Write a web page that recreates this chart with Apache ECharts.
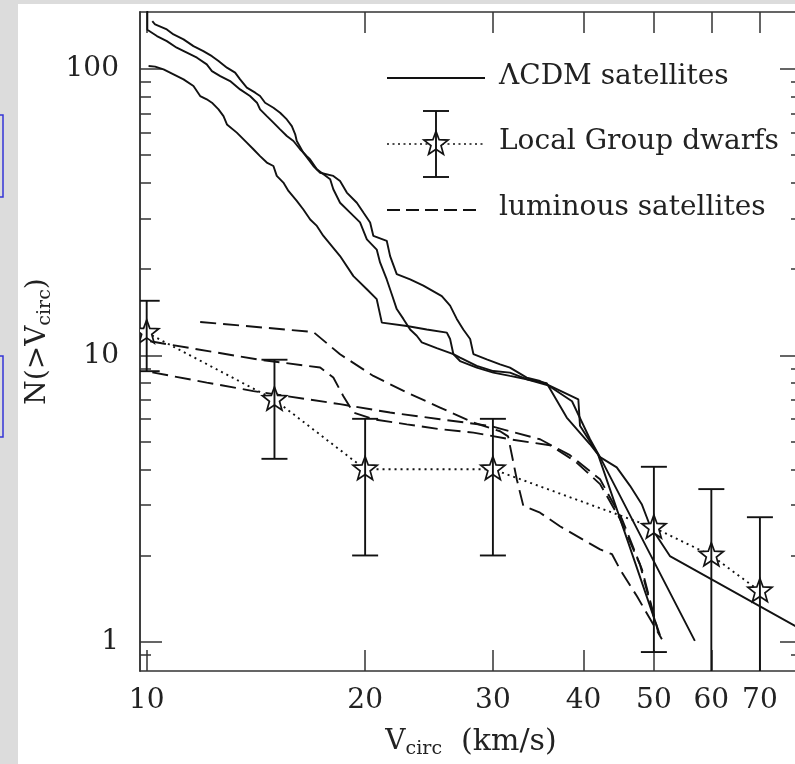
<!DOCTYPE html>
<html>
<head>
<meta charset="utf-8">
<script src="https://cdn.jsdelivr.net/npm/echarts@6/dist/echarts.min.js"></script>
<style>
html,body{margin:0;padding:0;background:#fff;}
#c{width:795px;height:764px;}
</style>
</head>
<body>
<div id="c"></div>
<script>
// ---------- data (V_circ in km/s, N(>V_circ)) ----------
const lcdmHaloA = [[10.18,146.9],[10.27,142.9],[10.66,137.3],[10.89,131.9],[11.24,126.8],[11.60,120.1],[11.97,115.4],[12.30,110.8],[12.56,106.5],[12.90,101.0],[13.24,97.0],[13.45,91.9],[13.74,86.0],[14.11,82.6],[14.33,80.4],[14.56,76.2],[14.95,73.2],[15.27,70.3],[15.60,66.6],[15.85,63.1],[16.02,59.1],[16.10,56.0],[16.44,51.0],[16.97,45.8],[17.34,43.4],[18.08,42.3],[18.47,40.6],[18.87,37.0],[19.48,34.1],[19.89,31.5],[20.32,29.1],[20.53,26.1],[21.42,25.1],[21.65,22.2],[22.11,19.2],[23.07,18.4],[24.06,17.5],[25.51,16.1],[26.19,14.9],[26.75,13.4],[27.31,12.3],[27.91,11.4],[28.20,10.1],[29.42,9.68],[30.69,9.30],[31.67,9.06],[33.40,8.36],[34.84,8.13],[39.34,7.02],[39.55,5.67],[41.88,4.51],[50.97,1.054]];
const lcdmHaloB = [[10.02,200],[10.02,137],[10.06,135.5],[10.33,130.2],[10.66,125.0],[11.00,118.6],[11.36,113.9],[11.73,109.4],[12.10,103.7],[12.30,98.2],[12.63,94.4],[13.03,90.7],[13.45,84.8],[13.88,80.4],[14.19,76.2],[14.33,72.2],[14.64,68.4],[14.95,64.9],[15.27,61.5],[15.60,58.3],[15.93,56.0],[16.27,52.4],[16.62,49.6],[16.80,48.3],[17.16,44.6],[17.90,41.2],[18.08,38.0],[18.47,34.1],[19.07,31.5],[19.68,29.1],[20.11,25.4],[20.75,23.4],[20.97,21.1],[21.42,18.4],[21.77,16.3],[22.11,14.5],[22.58,13.4],[23.07,12.3],[23.56,11.7],[23.94,11.1],[25.10,10.6],[26.46,10.1],[27.03,9.82],[28.50,9.18],[30.04,8.81],[31.67,8.70],[33.40,8.25],[35.59,7.99],[37.92,6.06],[40.83,4.89],[42.15,4.41],[56.94,1.006]];
const lcdmHaloC = [[10.06,102.3],[10.27,101.8],[10.55,99.6],[10.89,95.7],[11.24,91.9],[11.60,87.1],[11.85,80.4],[12.10,78.3],[12.30,76.2],[12.56,72.2],[12.76,68.4],[12.90,64.0],[13.31,59.9],[13.74,55.3],[14.03,52.4],[14.33,49.6],[14.64,47.1],[14.95,45.8],[15.11,42.3],[15.43,40.1],[15.68,37.5],[16.10,34.6],[16.44,32.3],[16.80,29.8],[17.16,28.3],[17.52,26.1],[18.47,22.2],[19.27,18.9],[20.11,17.0],[20.75,15.7],[21.09,13.0],[22.83,12.66],[24.32,12.3],[25.92,12.0],[26.19,11.4],[26.46,10.1],[27.03,9.55],[28.50,9.06],[30.04,8.70],[31.67,8.47],[33.40,8.25],[35.73,7.86],[38.56,6.91],[40.83,5.09],[42.15,4.41],[44.44,4.06],[46.36,3.50],[48.11,3.02],[49.39,2.54],[52.61,1.99],[80,1.10]];

const lumHaloA = [[11.85,13.07],[16.97,12.06],[18.47,10.08],[20.53,8.47],[22.83,7.41],[25.37,6.57],[28.20,5.82],[30.69,5.43],[31.48,5.21],[32.36,3.69],[33.04,2.98],[34.84,2.82],[37.11,2.53],[42.15,2.10],[43.78,2.02],[44.90,1.79],[47.39,1.44],[51.29,1.02]];
const lumHaloB = [[10.11,11.19],[14.19,9.68],[17.34,9.06],[18.08,8.36],[18.66,7.21],[19.27,6.31],[20.53,5.98],[22.83,5.74],[25.37,5.52],[28.20,5.37],[31.67,5.09],[35.96,4.85],[38.93,4.27],[42.15,3.55],[44.90,2.68],[47.84,1.86],[50.32,1.15]];
const lumHaloC = [[10.18,8.72],[12.10,8.03],[14.03,7.50],[18.47,6.75],[21.65,6.31],[25.37,5.98],[29.72,5.67],[34.84,5.09],[38.31,4.48],[42.15,3.69],[45.18,2.68],[48.14,1.79],[50.64,1.09]];

const dwarfV  = [10, 15, 20, 30, 50, 60, 70];
const dwarfN  = [12, 7, 4, 4, 2.5, 2, 1.5];
const dwarfLo = [8.8, 4.35, 2.0, 2.0, 0.92, 0.59, 0.28];
const dwarfHi = [15.5, 9.65, 6.0, 6.0, 4.08, 3.41, 2.72];

const xTicks  = [10, 20, 30, 40, 50, 60, 70];
const yMajor  = [1, 10, 100];
const yMinor  = [0.9, 2, 3, 4, 5, 6, 7, 8, 9, 20, 30, 40, 50, 60, 70, 80, 90];

const X_MIN = 9.79, X_MAX = 80;
const Y_MIN = 0.79, Y_MAX = 158;

// ---------- styles ----------
const FONT = 'DejaVu Serif';
const INK = '#121212';
const LW = 1.9;
const AX = {color: '#333', width: 1.5};
const STAR_PTS = [[0,-12],[2.94,-4.05],[11.41,-3.71],[4.76,1.55],[7.05,9.71],[0,5],[-7.05,9.71],[-4.76,1.55],[-11.41,-3.71],[-2.94,-4.05]];
const SCALE = 1.06;

function starShape(cx, cy) {
  return {points: STAR_PTS.map(p => [cx + p[0] * SCALE, cy + p[1] * SCALE])};
}

function xAxisDef(pos, labels) {
  const ax = {
    type: 'log', logBase: 10, min: X_MIN, max: X_MAX, position: pos,
    axisLine: {show: true, onZero: false, lineStyle: AX},
    axisTick: {show: true, inside: true, length: 21, customValues: xTicks, lineStyle: AX},
    axisLabel: {show: false},
    splitLine: {show: false}, minorTick: {show: false}, minorSplitLine: {show: false}
  };
  if (labels) {
    ax.axisLabel = {show: true, customValues: xTicks, formatter: v => String(Math.round(v)),
      margin: 16, color: '#222', fontFamily: FONT, fontSize: 28};
    ax.name = '{a|V}{s|circ}{b|  (km/s)}';
    ax.nameLocation = 'middle';
    ax.nameGap = 54;
    ax.nameTextStyle = {rich: {
      a: {fontFamily: FONT, fontSize: 28, lineHeight: 34, color: '#222'},
      b: {fontFamily: FONT, fontSize: 30, lineHeight: 34, color: '#222'},
      s: {fontFamily: FONT, fontSize: 19, lineHeight: 8, verticalAlign: 'bottom', color: '#222'}
    }};
  }
  return ax;
}
function yAxisDef(pos, ticks, len, labels) {
  const ax = {
    type: 'log', logBase: 10, min: Y_MIN, max: Y_MAX, position: pos, offset: 0,
    axisLine: {show: true, onZero: false, lineStyle: AX},
    axisTick: {show: true, inside: true, length: len, customValues: ticks, lineStyle: AX},
    axisLabel: {show: false},
    splitLine: {show: false}, minorTick: {show: false}, minorSplitLine: {show: false}
  };
  if (labels) {
    ax.axisLabel = {show: true, customValues: ticks, formatter: v => String(Math.round(v)),
      margin: 21, color: '#222', fontFamily: FONT, fontSize: 28};
    ax.name = '{a|N(>V}{s|circ}{a|)}';
    ax.nameLocation = 'middle';
    ax.nameGap = 76;
    ax.nameTextStyle = {rich: {
      a: {fontFamily: FONT, fontSize: 28, lineHeight: 34, color: '#222'},
      s: {fontFamily: FONT, fontSize: 19, lineHeight: 8, verticalAlign: 'bottom', color: '#222'}
    }};
  }
  return ax;
}

function lineSeries(data, type) {
  return {
    type: 'line', data: data, symbol: 'none', showSymbol: false, clip: true, z: 2,
    lineStyle: {color: INK, width: LW, type: type, cap: 'butt'},
    emphasis: {disabled: true}, silent: true
  };
}

const dwarfData = dwarfV.map((v, i) => [v, dwarfLo[i], dwarfHi[i], dwarfN[i]]);
const dwarfLine = dwarfV.map((v, i) => [v, dwarfN[i]]);

function renderDwarf(params, api) {
  const v = api.value(0);
  const pLo = api.coord([v, api.value(1)]);
  const pHi = api.coord([v, api.value(2)]);
  const pC = api.coord([v, api.value(3)]);
  const cap = 13;
  const st = {stroke: INK, lineWidth: LW};
  return {type: 'group', children: [
    {type: 'polygon', shape: starShape(pC[0], pC[1]), style: {fill: '#fff', stroke: INK, lineWidth: 1.7}},
    {type: 'line', shape: {x1: pLo[0], y1: pLo[1], x2: pHi[0], y2: pHi[1]}, style: st},
    {type: 'line', shape: {x1: pHi[0] - cap, y1: pHi[1], x2: pHi[0] + cap, y2: pHi[1]}, style: st},
    {type: 'line', shape: {x1: pLo[0] - cap, y1: pLo[1], x2: pLo[0] + cap, y2: pLo[1]}, style: st}
  ]};
}

const legendFont = '28px "DejaVu Serif"';
const option = {
  animation: false,
  backgroundColor: '#ffffff',
  grid: {left: 140, right: -7, top: 12, bottom: 93, containLabel: false, outerBoundsMode: 'none'},
  xAxis: [xAxisDef('bottom', true), xAxisDef('top', false)],
  yAxis: [yAxisDef('left', yMajor, 22, true), yAxisDef('left', yMinor, 11, false),
          yAxisDef('right', yMajor, 22, false), yAxisDef('right', yMinor, 11, false)],
  series: [
    lineSeries(lcdmHaloA, 'solid'),
    lineSeries(lcdmHaloB, 'solid'),
    lineSeries(lcdmHaloC, 'solid'),
    lineSeries(lumHaloA, [16, 7]),
    lineSeries(lumHaloB, [16, 7]),
    lineSeries(lumHaloC, [16, 7]),
    lineSeries(dwarfLine, [2, 4]),
    {type: 'custom', data: dwarfData, renderItem: renderDwarf, clip: true, z: 4,
     encode: {x: 0, y: [1, 2, 3]}, silent: true}
  ],
  graphic: {elements: [
    {type: 'rect', shape: {x: 0, y: 0, width: 18, height: 764}, style: {fill: '#dcdcdc'}, silent: true},
    {type: 'rect', shape: {x: 0, y: 0, width: 795, height: 4}, style: {fill: '#dcdcdc'}, silent: true},
    {type: 'rect', shape: {x: -10, y: 115, width: 13, height: 82}, style: {fill: 'none', stroke: '#3434d6', lineWidth: 1.5}, silent: true},
    {type: 'rect', shape: {x: -10, y: 356, width: 13, height: 81}, style: {fill: 'none', stroke: '#3434d6', lineWidth: 1.5}, silent: true},
    // legend
    {type: 'line', shape: {x1: 387, y1: 78, x2: 485, y2: 78}, style: {stroke: INK, lineWidth: LW}},
    {type: 'text', x: 499, y: 77, style: {text: 'ΛCDM satellites', font: legendFont, fill: '#222', align: 'left', verticalAlign: 'middle'}},
    {type: 'line', shape: {x1: 387, y1: 144, x2: 485, y2: 144}, style: {stroke: INK, lineWidth: 1.7, lineDash: [2, 3.5]}},
    {type: 'polygon', shape: starShape(436, 144), style: {fill: '#fff', stroke: INK, lineWidth: 1.7}},
    {type: 'line', shape: {x1: 436, y1: 111, x2: 436, y2: 177}, style: {stroke: INK, lineWidth: LW}},
    {type: 'line', shape: {x1: 423, y1: 111, x2: 449, y2: 111}, style: {stroke: INK, lineWidth: LW}},
    {type: 'line', shape: {x1: 423, y1: 177, x2: 449, y2: 177}, style: {stroke: INK, lineWidth: LW}},
    {type: 'text', x: 499, y: 142, style: {text: 'Local Group dwarfs', font: legendFont, fill: '#222', align: 'left', verticalAlign: 'middle'}},
    {type: 'line', shape: {x1: 387, y1: 210, x2: 478, y2: 210}, style: {stroke: INK, lineWidth: LW, lineDash: [13, 6]}},
    {type: 'text', x: 499, y: 208, style: {text: 'luminous satellites', font: legendFont, fill: '#222', align: 'left', verticalAlign: 'middle'}}
  ]}
};

const chart = echarts.init(document.getElementById('c'), null, {renderer: 'canvas', width: 795, height: 764});
chart.setOption(option);
</script>
</body>
</html>
